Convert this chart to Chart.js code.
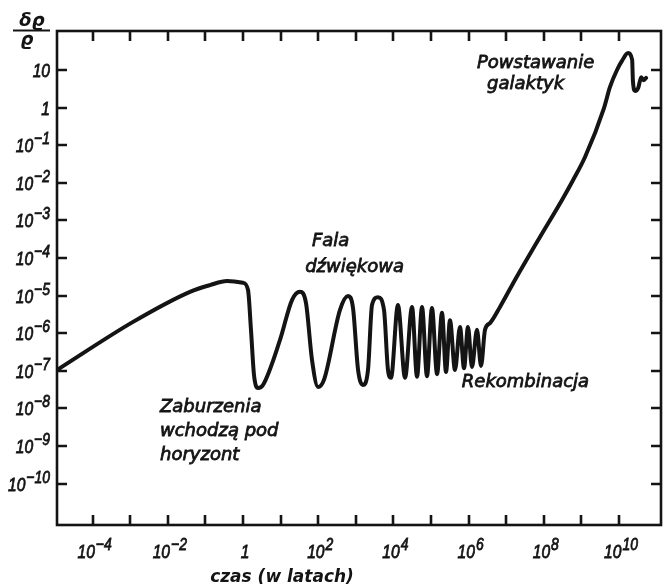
<!DOCTYPE html>
<html>
<head>
<meta charset="utf-8">
<script src="https://cdn.jsdelivr.net/npm/chart.js@4/dist/chart.umd.min.js"></script>
<style>html,body{margin:0;padding:0;background:#fff;}canvas{display:block;}</style>
</head>
<body>
<canvas id="c" width="665" height="587"></canvas>
<script>
// time in years
const timeYears = [
  1.13e-5, 1.19e-3, 0.0389, 0.132, 0.375, 1, 1.36, 1.63, 1.96, 2.51, 3.40,
  9.64, 20.1, 32.8, 47.4, 68.4, 98.9, 143, 380, 621, 843, 1150, 1550, 2110,
  2700, 3890, 5620, 7180, 8630,
  1.32e4, 2.04e4, 3.13e4, 4.25e4, 5.77e4, 7.83e4, 1.06e5, 1.45e5, 1.96e5,
  2.51e5, 3.20e5, 4.35e5, 5.90e5, 7.55e5, 9.64e5, 1.23e6, 1.67e6, 2.14e6,
  2.73e6, 3.71e6, 6.84e6, 1.71e7, 7.92e7, 3.05e8, 5.98e8, 1.25e9, 3.99e9,
  5.77e9, 8.85e9, 1.20e10,
  1.74e10, 2.24e10, 2.34e10, 2.69e10, 3.24e10, 3.89e10, 4.57e10, 5.25e10
];
// density contrast δϱ/ϱ
const densityContrast = [
  1.05e-7, 2.0e-6, 1.26e-5, 1.9e-5, 2.45e-5, 2.19e-5, 1.41e-5, 1.23e-6, 7.8e-8, 3.5e-8, 4.2e-8,
  6.6e-7, 7.6e-6, 1.26e-5, 6.3e-6, 1.95e-7, 3.7e-8, 5.8e-8, 4.2e-6, 9.8e-6, 4.7e-6, 1.05e-7, 4.2e-8, 1.05e-7,
  5.6e-6, 9.1e-6, 4.2e-6, 1.05e-7, 6.5e-8,
  5.6e-6, 6.5e-8, 5.0e-6, 6.9e-8, 5.0e-6, 7.2e-8, 4.7e-6, 8.1e-8, 3.5e-6,
  9.3e-8, 2.2e-6, 1.05e-7, 1.45e-6, 1.17e-7, 1.45e-6, 1.26e-7, 1.23e-6, 1.35e-7,
  1.23e-6, 1.86e-6, 5.0e-6, 2.6e-5, 3.62e-4, 3.5e-3, 1.17e-2, 0.0485, 0.975,
  3.55, 10, 17.4,
  28.2, 18.6, 5.37, 2.75, 3.31, 6.46, 5.37, 6.17
];
const xTickExponents = [-4,-3,-2,-1,0,1,2,3,4,5,6,7,8,9,10];
const xLabelExponents = [-4,-2,0,2,4,6,8,10];
const yTickExponents = [1,0,-1,-2,-3,-4,-5,-6,-7,-8,-9,-10];
const yLabelExponents = [1,0,-1,-2,-3,-4,-5,-6,-7,-8,-9,-10];
const xAxisTitle = 'czas (w latach)';
const notes = [
  {lines:['Zaburzenia','wchodzą pod','horyzont'], t:6.2e-3, v:7.9e-9},
  {lines:['Fala'], t:68, v:2.1e-4},
  {lines:['dźwiękowa'], t:45, v:4.3e-5},
  {lines:['Rekombinacja'], t:6.6e5, v:3.7e-8},
  {lines:['Powstawanie'], t:1.67e6, v:11.3},
  {lines:['galaktyk'], t:3.09e6, v:3.1}
];

const INK = '#141414';
const SX = 0.82;

function powParts(e){
  if (e === 0) return ['1',''];
  if (e === 1) return ['10',''];
  return ['10', (e < 0 ? '\u2212' : '') + Math.abs(e)];
}
function drawPow(ctx, e, px, baseY, align){
  const [b, s] = powParts(e);
  ctx.font = 'italic 19px "Liberation Sans"';
  const wb = ctx.measureText(b).width * SX;
  ctx.font = 'italic 17px "Liberation Sans"';
  const ws = s ? ctx.measureText(s).width * SX + 1 : 0;
  const total = wb + ws;
  let x0 = align === 'right' ? px - total : px - total / 2;
  ctx.save();
  ctx.translate(x0, baseY);
  ctx.scale(SX, 1);
  ctx.font = 'italic 19px "Liberation Sans"';
  ctx.fillText(b, 0, 0);
  ctx.strokeText(b, 0, 0);
  if (s){
    ctx.font = 'italic 17px "Liberation Sans"';
    ctx.fillText(s, (wb + 1) / SX, -8);
    ctx.strokeText(s, (wb + 1) / SX, -8);
  }
  ctx.restore();
}

const framePlugin = {
  id: 'frame',
  afterDraw(chart){
    const {ctx, chartArea: a, scales: {x, y}} = chart;
    ctx.save();
    ctx.strokeStyle = INK; ctx.fillStyle = INK;
    ctx.lineWidth = 2.6;
    ctx.strokeRect(a.left, a.top, a.right - a.left, a.bottom - a.top);
    const L = 10;
    ctx.beginPath();
    xTickExponents.forEach(e => {
      const px = Math.round(x.getPixelForValue(Math.pow(10, e)));
      ctx.moveTo(px, a.bottom); ctx.lineTo(px, a.bottom - L);
      ctx.moveTo(px, a.top); ctx.lineTo(px, a.top + L);
    });
    yTickExponents.forEach(e => {
      const py = Math.round(y.getPixelForValue(Math.pow(10, e)));
      ctx.moveTo(a.left, py); ctx.lineTo(a.left + L, py);
      ctx.moveTo(a.right, py); ctx.lineTo(a.right - L, py);
    });
    ctx.stroke();

    ctx.lineWidth = 0.8;
    ctx.textBaseline = 'alphabetic';
    ctx.textAlign = 'left';
    yLabelExponents.forEach(e => {
      const py = y.getPixelForValue(Math.pow(10, e));
      drawPow(ctx, e, a.left - 7, py + 7, 'right');
    });
    xLabelExponents.forEach(e => {
      const px = x.getPixelForValue(Math.pow(10, e));
      drawPow(ctx, e, px + 2, a.bottom + 33, 'center');
    });

    // annotations
    ctx.font = 'italic 18px "DejaVu Sans"';
    ctx.lineWidth = 0.8;
    notes.forEach(n => {
      const px = x.getPixelForValue(n.t);
      const py = y.getPixelForValue(n.v);
      n.lines.forEach((t, i) => {
        ctx.fillText(t, px, py + i * 24);
        ctx.strokeText(t, px, py + i * 24);
      });
    });

    // x axis title
    ctx.font = 'italic bold 17px "DejaVu Sans"';
    ctx.textAlign = 'center';
    ctx.fillText(xAxisTitle, (a.left + a.right) / 2 - 77, a.bottom + 57);

    // y axis title (fraction)
    ctx.font = 'italic bold 18px "DejaVu Sans"';
    ctx.fillText('\u03B4\u03F1', 32, 26);
    ctx.fillText('\u03F1', 27, 45);
    ctx.lineWidth = 2;
    ctx.beginPath(); ctx.moveTo(13, 30.5); ctx.lineTo(50, 30.5); ctx.stroke();
    ctx.restore();
  }
};

new Chart(document.getElementById('c'), {
  type: 'line',
  data: {
    datasets: [{
      data: timeYears.map((t, i) => ({x: t, y: densityContrast[i]})),
      borderColor: INK,
      borderWidth: 4,
      pointRadius: 0,
      fill: false,
      cubicInterpolationMode: 'monotone',
      borderCapStyle: 'round',
      borderJoinStyle: 'round'
    }]
  },
  options: {
    responsive: false,
    animation: false,
    events: [],
    layout: {padding: {left: 57, right: 4, top: 31, bottom: 62}},
    plugins: {legend: {display: false}, tooltip: {enabled: false}},
    scales: {
      x: {type: 'logarithmic', min: 1.13e-5, max: 1.31e11, display: false},
      y: {type: 'logarithmic', min: 7.92e-12, max: 108.9, display: false}
    }
  },
  plugins: [framePlugin]
});
</script>
</body>
</html>
